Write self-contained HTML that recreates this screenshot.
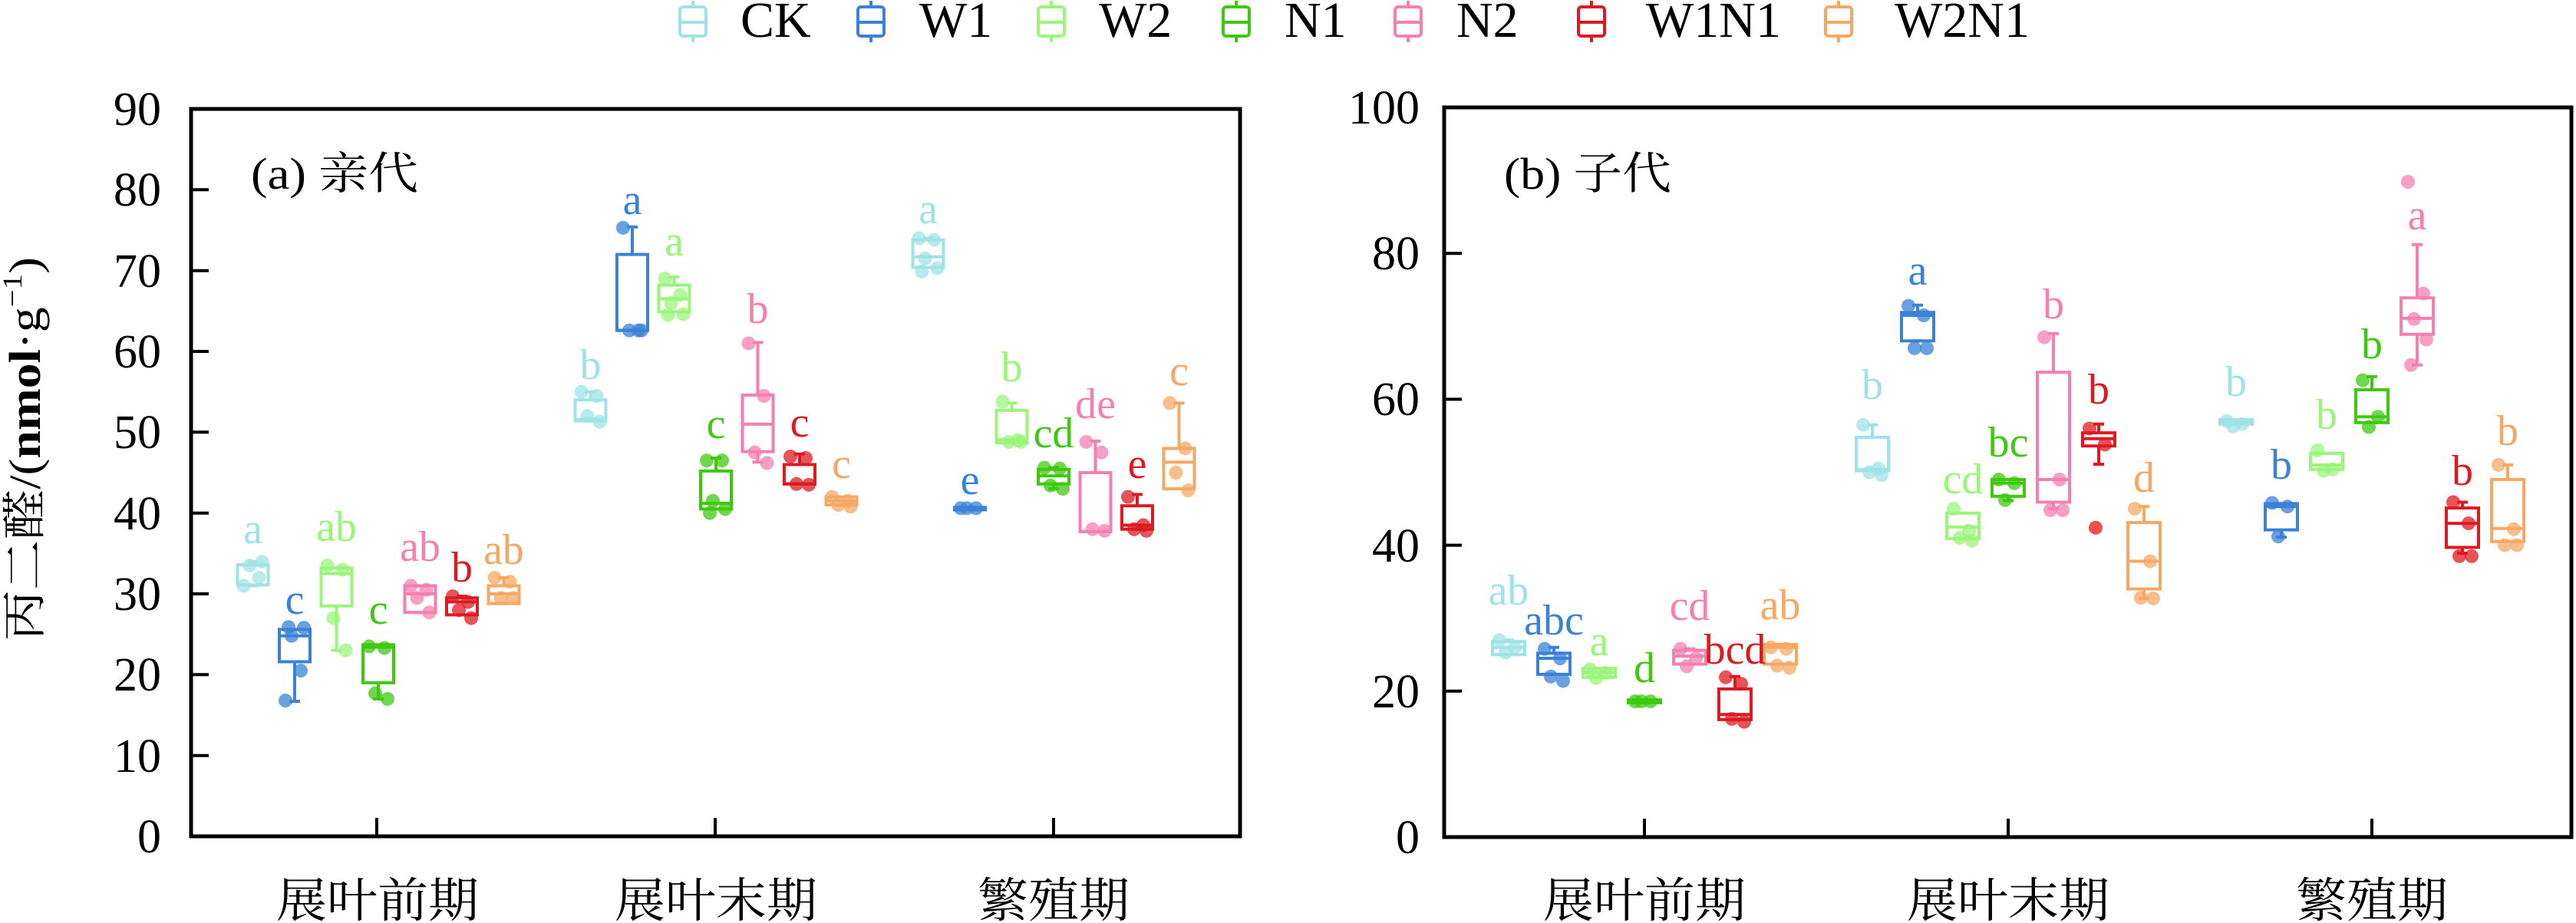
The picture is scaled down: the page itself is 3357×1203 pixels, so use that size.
<!DOCTYPE html>
<html><head><meta charset="utf-8">
<style>
html,body{margin:0;padding:0;background:#fff;}
svg{display:block;}
text{font-family:"Liberation Serif","Noto Serif CJK SC","Noto Sans CJK SC",serif;}
</style></head>
<body>
<svg id="s" width="3357" height="1203" viewBox="0 0 3357 1203" xmlns="http://www.w3.org/2000/svg">
<rect width="3357" height="1203" fill="#fff"/>
<g font-size="66" fill="#000">
<text x="965" y="48">CK</text>
<text x="1198" y="48">W1</text>
<text x="1432" y="48">W2</text>
<text x="1674" y="48">N1</text>
<text x="1898" y="48">N2</text>
<text x="2145" y="48">W1N1</text>
<text x="2469" y="48">W2N1</text>
</g>
<g id="leg"></g>
<g id="plots"></g>
<rect x="249" y="142" width="1367" height="948" fill="none" stroke="#000" stroke-width="5"/>
<rect x="1882" y="140" width="1469" height="951" fill="none" stroke="#000" stroke-width="5"/>
<g stroke="#000" stroke-width="4">
<line x1="249" y1="984.7" x2="272" y2="984.7"/><line x1="249" y1="879.3" x2="272" y2="879.3"/>
<line x1="249" y1="774" x2="272" y2="774"/><line x1="249" y1="668.7" x2="272" y2="668.7"/>
<line x1="249" y1="563.3" x2="272" y2="563.3"/><line x1="249" y1="458" x2="272" y2="458"/>
<line x1="249" y1="352.7" x2="272" y2="352.7"/><line x1="249" y1="247.3" x2="272" y2="247.3"/>
<line x1="491" y1="1090" x2="491" y2="1066"/><line x1="932" y1="1090" x2="932" y2="1066"/><line x1="1373" y1="1090" x2="1373" y2="1066"/>
<line x1="1882" y1="900.8" x2="1905" y2="900.8"/><line x1="1882" y1="710.6" x2="1905" y2="710.6"/>
<line x1="1882" y1="520.4" x2="1905" y2="520.4"/><line x1="1882" y1="330.2" x2="1905" y2="330.2"/>
<line x1="2143" y1="1091" x2="2143" y2="1067"/><line x1="2617" y1="1091" x2="2617" y2="1067"/><line x1="3091" y1="1091" x2="3091" y2="1067"/>
</g>
<g font-size="62" fill="#000" text-anchor="end">
<text x="210" y="1111">0</text><text x="210" y="1006">10</text><text x="210" y="900">20</text>
<text x="210" y="795">30</text><text x="210" y="690">40</text><text x="210" y="584">50</text>
<text x="210" y="479">60</text><text x="210" y="374">70</text><text x="210" y="268">80</text>
<text x="210" y="163">90</text>
<text x="1850" y="1112">0</text><text x="1850" y="922">20</text><text x="1850" y="732">40</text>
<text x="1850" y="541">60</text><text x="1850" y="351">80</text><text x="1850" y="161">100</text>
</g>
<g font-size="62" fill="#000" text-anchor="middle">
<text x="492" y="1195" textLength="264" lengthAdjust="spacingAndGlyphs">展叶前期</text>
<text x="933" y="1195" textLength="264" lengthAdjust="spacingAndGlyphs">展叶末期</text>
<text x="1373" y="1195" textLength="198" lengthAdjust="spacingAndGlyphs">繁殖期</text>
<text x="2143" y="1195" textLength="264" lengthAdjust="spacingAndGlyphs">展叶前期</text>
<text x="2617" y="1195" textLength="264" lengthAdjust="spacingAndGlyphs">展叶末期</text>
<text x="3091" y="1195" textLength="198" lengthAdjust="spacingAndGlyphs">繁殖期</text>
</g>
<text x="327" y="246" font-size="58" textLength="218" lengthAdjust="spacingAndGlyphs">(a) 亲代</text>
<text x="1960" y="246" font-size="58" textLength="218" lengthAdjust="spacingAndGlyphs">(b) 子代</text>
<text transform="translate(52,585) rotate(-90)" font-size="58" text-anchor="middle" textLength="500" lengthAdjust="spacingAndGlyphs">丙二醛/(<tspan font-weight="bold">nmol</tspan>·g<tspan font-size="36" dy="-24">−1</tspan><tspan dy="24">)</tspan></text>
<g font-size="56" text-anchor="middle" dominant-baseline="central">
<text x="329.5" y="690" fill="#9fe3e6">a</text>
<text x="384" y="782" fill="#3a82d6">c</text>
<text x="438.5" y="687" fill="#9af57a">ab</text>
<text x="493" y="795" fill="#3ec90f">c</text>
<text x="547.5" y="713" fill="#f47fb0">ab</text>
<text x="602" y="740" fill="#dd1a22">b</text>
<text x="656.5" y="717" fill="#f5a864">ab</text>
<text x="769.5" y="476" fill="#9fe3e6">b</text>
<text x="824" y="261" fill="#3a82d6">a</text>
<text x="878.5" y="315" fill="#9af57a">a</text>
<text x="933" y="553" fill="#3ec90f">c</text>
<text x="987.5" y="403" fill="#f47fb0">b</text>
<text x="1042" y="551" fill="#dd1a22">c</text>
<text x="1096.5" y="605" fill="#f5a864">c</text>
<text x="1209.5" y="273" fill="#9fe3e6">a</text>
<text x="1264" y="626" fill="#3a82d6">e</text>
<text x="1318.5" y="479" fill="#9af57a">b</text>
<text x="1373" y="565" fill="#3ec90f">cd</text>
<text x="1427.5" y="527" fill="#f47fb0">de</text>
<text x="1482" y="605" fill="#dd1a22">e</text>
<text x="1536.5" y="484" fill="#f5a864">c</text>
<text x="1966" y="770" fill="#9fe3e6">ab</text>
<text x="2025" y="809" fill="#3a82d6">abc</text>
<text x="2084" y="836" fill="#9af57a">a</text>
<text x="2143" y="871" fill="#3ec90f">d</text>
<text x="2202" y="790" fill="#f47fb0">cd</text>
<text x="2261" y="847" fill="#dd1a22">bcd</text>
<text x="2320" y="789" fill="#f5a864">ab</text>
<text x="2440" y="502" fill="#9fe3e6">b</text>
<text x="2499" y="353" fill="#3a82d6">a</text>
<text x="2558" y="625" fill="#9af57a">cd</text>
<text x="2617" y="577" fill="#3ec90f">bc</text>
<text x="2676" y="397" fill="#f47fb0">b</text>
<text x="2735" y="508" fill="#dd1a22">b</text>
<text x="2794" y="623" fill="#f5a864">d</text>
<text x="2914" y="498" fill="#9fe3e6">b</text>
<text x="2973" y="606" fill="#3a82d6">b</text>
<text x="3032" y="541" fill="#9af57a">b</text>
<text x="3091" y="449" fill="#3ec90f">b</text>
<text x="3150" y="281" fill="#f47fb0">a</text>
<text x="3209" y="614" fill="#dd1a22">b</text>
<text x="3268" y="562" fill="#f5a864">b</text>
</g>
</svg>
<script>
(function(){
var C=["#9fe3e6","#3a82d6","#9af57a","#3ec90f","#f47fb0","#dd1a22","#f5a864"];
var NS="http://www.w3.org/2000/svg";
function el(p,t,a){var e=document.createElementNS(NS,t);for(var k in a)e.setAttribute(k,a[k]);p.appendChild(e);return e;}
var leg=document.getElementById("leg");
[903,1135,1370,1611,1835,2074,2396].forEach(function(x,i){
 el(leg,"line",{x1:x,y1:1,x2:x,y2:55,stroke:C[i],"stroke-width":4});
 el(leg,"rect",{x:x-17,y:9,width:34,height:38,rx:4,fill:"#fff",stroke:C[i],"stroke-width":4});
 el(leg,"line",{x1:x-17,y1:29,x2:x+17,y2:29,stroke:C[i],"stroke-width":4});
});
var A=[
[[31.1,33.6,33.6,31,34,[31,32,33.5,34]],[21.6,24.8,25.6,16.7,25.6,[16.8,20.5,24.8,25.8,25.9]],[28.5,32.5,33.2,23,33.2,[33.5,33,27,23]],[19,23.4,23.7,17,23.7,[23.5,23.3,17.7,17]],[27.7,30,31,27.7,31,[31,30.5,29.5,27.7]],[27.4,29,29.5,27.4,29.7,[29.7,29,28,27]],[28.8,30,31,28.8,32,[32,31.5,29.5,29.5]]],
[[51.4,51.6,54,51.4,55,[55,54.5,52,51.3]],[62.6,62.6,72,62.6,75.4,[75.3,62.6,62.6,62.6]],[64.9,66.5,68.2,64.9,69.2,[69,67,66,64.6,64.5]],[40.5,41.2,45.2,40.5,46.8,[46.5,46.5,41.5,40.5,40]],[47.6,51,54.6,46.3,61.1,[61,54.5,47.5,46.2]],[43.6,43.6,46,43.6,47.3,[47,46.8,43.6,43.5]],[41,41.5,42,41,42,[42,41.5,41,40.8]]],
[[70.4,71.7,73.8,70.4,74,[74,73.8,71.5,70.3,69.9]],[40.4,40.5,40.7,40.4,40.7,[40.6,40.6,40.6]],[48.7,49.1,52.7,48.7,53.6,[53.8,49,48.8,48.8]],[43.6,44.6,45.4,43,45.6,[45.6,45.5,43.4,43]],[37.7,37.7,45,37.7,48.9,[48.8,47.5,38,37.8]],[38,38.5,40.9,38,42.3,[42,38.5,38,37.8]],[43,46.3,48,43,53.6,[53.6,48,45,42.8]]]
];
var B=[
[[25,26,26.8,25,27,[27,26,25.3]],[22.3,24.5,25.2,22.3,26,[25.8,24.5,22,21.4]],[21.9,22.6,23.1,21.9,23.1,[23,22.5,21.8]],[18.4,18.6,18.8,18.4,18.8,[18.6,18.6,18.6]],[23.7,24.8,25.6,23.7,25.8,[25.8,24.5,23.4]],[16.1,16.8,20.3,16.1,22,[21.9,21,16.2,15.8]],[23.7,26,26.4,23.7,26.4,[26,25.8,23.5,23.2]]],
[[50.2,50.4,54.8,50.2,56.5,[56.5,50.5,50,49.6]],[68,71.5,71.9,68,72.9,[72.8,71.5,67,67]],[40.9,42.5,44.4,40.9,44.4,[45,42,41,40.6]],[46.7,48.5,49,46.1,49,[49,48.5,46.2]],[45.9,49,63.7,45,69,[68.5,49,44.8,44.8]],[53.6,54.6,55.4,51.1,56.6,[56,53.8,42.4]],[34,37.8,43.1,32.7,45.3,[45,37.8,32.8,32.7]]],
[[56.6,56.9,57.2,56.6,57.2,[57,56.6,56.3]],[42.1,45.3,45.7,41.1,45.7,[45.8,45.3,41.2]],[50.4,51,52.6,50.4,52.6,[53,50.4,50.2]],[56.8,57.6,61.3,56.8,63.1,[62.6,57.6,56.2]],[68.9,71.1,73.9,64.7,81.2,[89.8,74.5,71,68.2,64.7]],[39.7,43,45.1,38.9,45.9,[45.9,43,38.5,38.5]],[40.5,42.3,49,40.5,51,[51,42.2,40,40]]]
];
var g=document.getElementById("plots");
function draw(D,x0,gs,ss,y0,k,bw){
 var jit=[-12,8,-4,12,-8,4];
 D.forEach(function(grp,gi){grp.forEach(function(b,si){
  var cx=x0+gs*gi+(si-3)*ss,c=C[si],Y=function(v){return y0-v*k;};
  el(g,"line",{x1:cx,y1:Y(b[4]),x2:cx,y2:Y(b[2]),stroke:c,"stroke-width":4});
  el(g,"line",{x1:cx,y1:Y(b[0]),x2:cx,y2:Y(b[3]),stroke:c,"stroke-width":4});
  el(g,"line",{x1:cx-7,y1:Y(b[4]),x2:cx+7,y2:Y(b[4]),stroke:c,"stroke-width":4});
  el(g,"line",{x1:cx-7,y1:Y(b[3]),x2:cx+7,y2:Y(b[3]),stroke:c,"stroke-width":4});
  el(g,"rect",{x:cx-bw/2,y:Y(b[2]),width:bw,height:Math.max(2,Y(b[0])-Y(b[2])),fill:"none",stroke:c,"stroke-width":4});
  el(g,"line",{x1:cx-bw/2,y1:Y(b[1]),x2:cx+bw/2,y2:Y(b[1]),stroke:c,"stroke-width":4});
  b[5].forEach(function(v,pi){el(g,"circle",{cx:cx+jit[pi%6],cy:Y(v),r:9,fill:c,"fill-opacity":0.75});});
 });});
}
draw(A,493,440,54.5,1090,10.533,40);
draw(B,2143,474,59,1091,9.51,42);
})();
</script>
</body></html>
